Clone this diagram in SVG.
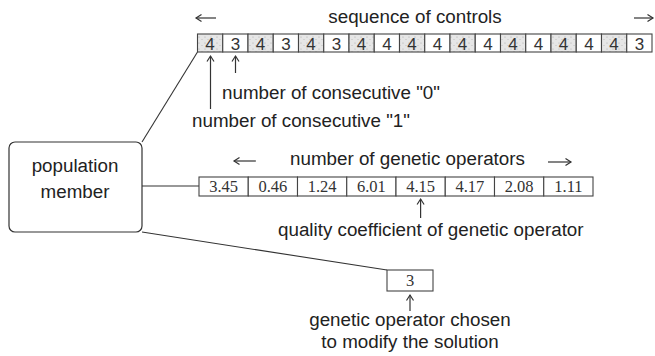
<svg xmlns="http://www.w3.org/2000/svg" width="655" height="356" viewBox="0 0 655 356">
<style>
.lbl{font-family:"Liberation Sans",Arial,sans-serif;font-size:18.8px;fill:#222}
.mid{text-anchor:middle}
.dig{font-family:"Liberation Sans",Arial,sans-serif;font-size:17px;fill:#333;text-anchor:middle}
.num{font-family:"Liberation Serif","Times New Roman",serif;font-size:16.5px;fill:#333;text-anchor:middle}
.cell{fill:#fff;stroke:#444;stroke-width:1.1}
.sh{fill:url(#speck);stroke:#444;stroke-width:1.1}
.ln{stroke:#333;stroke-width:1.1;fill:none}
.arr{stroke:#333;stroke-width:1.2;fill:none;marker-end:url(#ah)}
</style>
<defs>
<marker id="ah" markerWidth="10" markerHeight="10" refX="0" refY="0" viewBox="-6 -5 10 10" orient="auto" markerUnits="userSpaceOnUse">
<path d="M-5.5,-3.5 L0,0 L-5.5,3.5" fill="none" stroke="#333" stroke-width="1.2"/>
</marker>
<pattern id="speck" width="6" height="6" patternUnits="userSpaceOnUse">
<rect width="6" height="6" fill="#e6e6e6"/>
<circle cx="1" cy="1" r="0.6" fill="#aaa"/>
<circle cx="4" cy="3.5" r="0.5" fill="#b5b5b5"/>
</pattern>
</defs>

<g id="connectors">
<line class="ln" x1="142" y1="142" x2="197.5" y2="52"/>
<line class="ln" x1="142" y1="186" x2="199" y2="186"/>
<line class="ln" x1="142" y1="232" x2="387" y2="270"/>
<line class="arr" x1="210.5" y1="109" x2="210.5" y2="56"/>
<line class="arr" x1="235.5" y1="73" x2="235.5" y2="56"/>
<line class="arr" x1="420.6" y1="218" x2="420.6" y2="199"/>
<line class="arr" x1="410" y1="311" x2="410" y2="295"/>
<line class="arr" x1="216" y1="18" x2="196" y2="18"/>
<line class="arr" x1="634" y1="18" x2="653" y2="18"/>
<line class="arr" x1="256" y1="161" x2="234" y2="161"/>
<line class="arr" x1="548" y1="162" x2="571" y2="162"/>
</g>

<g id="population-member">
<rect x="9" y="142" width="133" height="90" rx="6" fill="#fff" stroke="#333" stroke-width="1.2"/>
<text class="lbl mid" x="75" y="172">population</text>
<text class="lbl mid" x="75" y="198">member</text>
</g>

<g id="sequence-of-controls">
<text class="lbl mid" x="415" y="23">sequence of controls</text>
<rect class="sh" x="197.5" y="34" width="25.25" height="18"/>
<rect class="cell" x="222.75" y="34" width="25.25" height="18"/>
<rect class="sh" x="248" y="34" width="25.25" height="18"/>
<rect class="cell" x="273.25" y="34" width="25.25" height="18"/>
<rect class="sh" x="298.5" y="34" width="25.25" height="18"/>
<rect class="cell" x="323.75" y="34" width="25.25" height="18"/>
<rect class="sh" x="349" y="34" width="25.25" height="18"/>
<rect class="cell" x="374.25" y="34" width="25.25" height="18"/>
<rect class="sh" x="399.5" y="34" width="25.25" height="18"/>
<rect class="cell" x="424.75" y="34" width="25.25" height="18"/>
<rect class="sh" x="450" y="34" width="25.25" height="18"/>
<rect class="cell" x="475.25" y="34" width="25.25" height="18"/>
<rect class="sh" x="500.5" y="34" width="25.25" height="18"/>
<rect class="cell" x="525.75" y="34" width="25.25" height="18"/>
<rect class="sh" x="551" y="34" width="25.25" height="18"/>
<rect class="cell" x="576.25" y="34" width="25.25" height="18"/>
<rect class="sh" x="601.5" y="34" width="25.25" height="18"/>
<rect class="cell" x="626.75" y="34" width="25.25" height="18"/>
<text class="dig" x="210.1" y="49.5">4</text>
<text class="dig" x="235.4" y="49.5">3</text>
<text class="dig" x="260.6" y="49.5">4</text>
<text class="dig" x="285.9" y="49.5">3</text>
<text class="dig" x="311.1" y="49.5">4</text>
<text class="dig" x="336.4" y="49.5">3</text>
<text class="dig" x="361.6" y="49.5">4</text>
<text class="dig" x="386.9" y="49.5">4</text>
<text class="dig" x="412.1" y="49.5">4</text>
<text class="dig" x="437.4" y="49.5">4</text>
<text class="dig" x="462.6" y="49.5">4</text>
<text class="dig" x="487.9" y="49.5">4</text>
<text class="dig" x="513.1" y="49.5">4</text>
<text class="dig" x="538.4" y="49.5">4</text>
<text class="dig" x="563.6" y="49.5">4</text>
<text class="dig" x="588.9" y="49.5">4</text>
<text class="dig" x="614.1" y="49.5">4</text>
<text class="dig" x="639.4" y="49.5">3</text>
<text class="lbl" x="222" y="99">number of consecutive "0"</text>
<text class="lbl" x="192" y="127">number of consecutive "1"</text>
</g>

<g id="genetic-operators">
<text class="lbl" x="290" y="165">number of genetic operators</text>
<rect class="cell" x="199" y="177" width="49.25" height="19"/>
<rect class="cell" x="248.25" y="177" width="49.25" height="19"/>
<rect class="cell" x="297.5" y="177" width="49.25" height="19"/>
<rect class="cell" x="346.75" y="177" width="49.25" height="19"/>
<rect class="cell" x="396" y="177" width="49.25" height="19"/>
<rect class="cell" x="445.25" y="177" width="49.25" height="19"/>
<rect class="cell" x="494.5" y="177" width="49.25" height="19"/>
<rect class="cell" x="543.75" y="177" width="49.25" height="19"/>
<text class="num" x="223.6" y="192">3.45</text>
<text class="num" x="272.9" y="192">0.46</text>
<text class="num" x="322.1" y="192">1.24</text>
<text class="num" x="371.4" y="192">6.01</text>
<text class="num" x="420.6" y="192">4.15</text>
<text class="num" x="469.9" y="192">4.17</text>
<text class="num" x="519.1" y="192">2.08</text>
<text class="num" x="568.4" y="192">1.11</text>
<text class="lbl" x="278" y="236">quality coefficient of genetic operator</text>
</g>

<g id="chosen-operator">
<rect class="cell" x="387" y="270" width="46" height="21"/>
<text class="num" x="410" y="286">3</text>
<text class="lbl mid" x="410" y="326">genetic operator chosen</text>
<text class="lbl mid" x="410" y="348">to modify the solution</text>
</g>
</svg>
